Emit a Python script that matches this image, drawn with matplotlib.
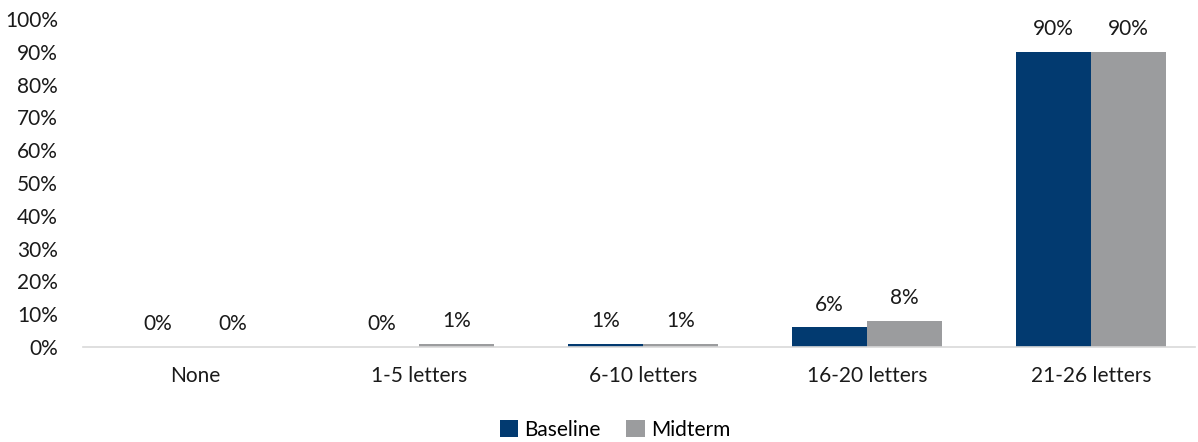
import numpy as np
import matplotlib
matplotlib.use('Agg')
import matplotlib.pyplot as plt
from matplotlib.ticker import PercentFormatter

categories = ['None', '1-5 letters', '6-10 letters', '16-20 letters', '21-26 letters']
baseline = [0, 0, 1, 6, 90]
midterm = [0, 1, 1, 8, 90]
series_names = ['Baseline', 'Midterm']
colors = ['#023a70', '#9b9c9e']

plt.rcParams['font.family'] = ['Lato', 'DejaVu Sans']
plt.rcParams['font.size'] = 15

fig = plt.figure(figsize=(11.98, 4.42), dpi=100)
# plot area: category slots are 224 px wide, the axis line stops at the right edge
ax = fig.add_axes([83 / 1198, 1 - 347 / 442, (1195 - 83) / 1198, (347 - 19) / 442])

x = np.arange(len(categories))
w = 1 / 3
for vals, name, c, off in zip([baseline, midterm], series_names, colors, [-w / 2, w / 2]):
    bars = ax.bar(x + off, vals, width=w, color=c, label=name)
    for b, v in zip(bars, vals):
        ax.annotate('{}%'.format(v), (b.get_x() + b.get_width() / 2, v),
                    xytext=(0, 9), textcoords='offset points',
                    ha='center', va='bottom', color='#1a1a1a')

ax.set_xlim(-0.5, -0.5 + (1195 - 83) / 224)
ax.set_ylim(0, 100)
ax.set_yticks(range(0, 101, 10))
ax.yaxis.set_major_formatter(PercentFormatter(decimals=0))
ax.set_xticks(x)
ax.set_xticklabels(categories)
ax.tick_params(axis='both', length=0, colors='#1a1a1a')
ax.tick_params(axis='x', pad=14)
ax.tick_params(axis='y', pad=18)
for s in ['top', 'right', 'left']:
    ax.spines[s].set_visible(False)
ax.spines['bottom'].set_color('#d9d9d9')
ax.spines['bottom'].set_linewidth(1.2)

fig.legend(loc='center', bbox_to_anchor=(615 / 1198, 1 - 430 / 442), ncol=2,
           frameon=False, handlelength=0.9, handleheight=0.9, handletextpad=0.3,
           columnspacing=1.2)

fig.savefig('out.png', dpi=100)
